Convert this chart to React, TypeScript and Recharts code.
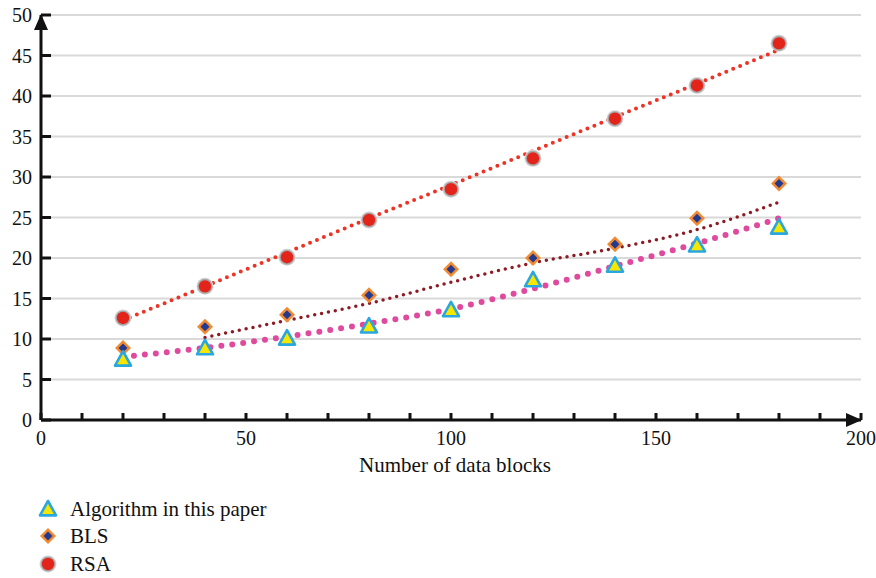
import React from 'react';
import { ComposedChart, Line, XAxis, YAxis, CartesianGrid } from 'recharts';

const blocks = [20, 40, 60, 80, 100, 120, 140, 160, 180];
const algorithmValues = [7.5, 8.9, 10.1, 11.6, 13.6, 17.3, 19.1, 21.6, 23.8];
const blsValues = [8.9, 11.5, 13.0, 15.4, 18.6, 20.0, 21.7, 24.9, 29.2];
const rsaValues = [12.6, 16.5, 20.1, 24.7, 28.5, 32.3, 37.2, 41.3, 46.5];
const algorithmTrend = [7.8, 8.9, 10.3, 11.9, 13.7, 16.2, 19.0, 21.8, 24.9];
const blsTrend = [null, 10.2, 12.3, 14.4, 17.0, 19.4, 21.2, 23.5, 26.9];
const rsaTrend = [12.3, 16.5, 20.7, 24.9, 29.0, 33.2, 37.4, 41.5, 45.7];
const xTicks = [0, 10, 20, 30, 40, 50, 60, 70, 80, 90, 100, 110, 120, 130, 140, 150, 160, 170, 180, 190, 200];
const yTicks = [0, 5, 10, 15, 20, 25, 30, 35, 40, 45, 50];
const seriesNames = ['Algorithm in this paper', 'BLS', 'RSA'];

const data = blocks.map((x, i) => ({
  x,
  algorithm: algorithmValues[i],
  bls: blsValues[i],
  rsa: rsaValues[i],
  algorithmTrend: algorithmTrend[i],
  blsTrend: blsTrend[i],
  rsaTrend: rsaTrend[i],
}));

const FONT = '"Liberation Serif", "Times New Roman", serif';

const Triangle = (props: any) => {
  const { cx, cy } = props;
  if (cx == null || cy == null) return null;
  const s = 8;
  return (
    <path
      d={`M${cx},${cy - s} L${cx + s},${cy + s * 0.8} L${cx - s},${cy + s * 0.8} Z`}
      fill="#f6e600"
      stroke="#2aa6e0"
      strokeWidth={2.6}
      strokeLinejoin="round"
    />
  );
};

const Diamond = (props: any) => {
  const { cx, cy } = props;
  if (cx == null || cy == null) return null;
  const s = 8;
  const t = 4.5;
  return (
    <g>
      <path d={`M${cx},${cy - s} L${cx + s},${cy} L${cx},${cy + s} L${cx - s},${cy} Z`} fill="#f28a32" />
      <path d={`M${cx},${cy - t} L${cx + t},${cy} L${cx},${cy + t} L${cx - t},${cy} Z`} fill="#243a8e" />
    </g>
  );
};

const Ball = (props: any) => {
  const { cx, cy } = props;
  if (cx == null || cy == null) return null;
  return (
    <g>
      <circle cx={cx} cy={cy} r={8.5} fill="#d4d4d4" />
      <circle cx={cx} cy={cy} r={7.5} fill="#a8a8a8" />
      <circle cx={cx} cy={cy} r={6.2} fill="#e3241b" />
    </g>
  );
};

const LegendIcon = ({ kind }: { kind: number }) => (
  <svg width={20} height={20} style={{ display: 'block' }}>
    {kind === 0 && <Triangle cx={10} cy={10} />}
    {kind === 1 && <Diamond cx={10} cy={10} />}
    {kind === 2 && <Ball cx={10} cy={10} />}
  </svg>
);

export default function App() {
  return (
    <div style={{ position: 'absolute', left: 0, top: 0, width: 876, height: 578, background: '#fff', fontFamily: FONT }}>
      <svg width={0} height={0} style={{ position: 'absolute' }}>
        <defs>
          <marker id="axisArrow" markerUnits="userSpaceOnUse" markerWidth={17} markerHeight={14} refX={15} refY={7} orient="auto-start-reverse">
            <path d="M0,0 L16,7 L0,14 Z" fill="#111" />
          </marker>
        </defs>
      </svg>
      <ComposedChart width={876} height={578} data={data} margin={{ top: 15, right: 15, bottom: 102, left: 0 }}>
        <CartesianGrid horizontal vertical={false} stroke="#d9d9d9" strokeWidth={2} />
        <XAxis
          type="number"
          dataKey="x"
          domain={[0, 200]}
          ticks={xTicks}
          interval={0}
          tickFormatter={(v: number) => (v % 50 === 0 ? String(v) : '')}
          tickSize={-7}
          tickMargin={18}
          height={56}
          axisLine={{ stroke: '#111', strokeWidth: 3, markerEnd: 'url(#axisArrow)' }}
          tickLine={{ stroke: '#111', strokeWidth: 3 }}
          tick={{ fill: '#111', fontSize: 20, fontFamily: FONT }}
          label={{ value: 'Number of data blocks', position: 'insideBottom', offset: 4, dx: 4, fill: '#111', fontSize: 21, fontFamily: FONT }}
        />
        <YAxis
          type="number"
          domain={[0, 50]}
          ticks={yTicks}
          interval={0}
          width={41}
          tickSize={-10}
          tickMargin={19}
          axisLine={{ stroke: '#111', strokeWidth: 3, markerStart: 'url(#axisArrow)' }}
          tickLine={{ stroke: '#111', strokeWidth: 3 }}
          tick={{ fill: '#111', fontSize: 20, fontFamily: FONT }}
        />
        <Line dataKey="rsaTrend" type="linear" stroke="#ee3224" strokeWidth={4} strokeDasharray="0 7.5" strokeLinecap="round" dot={false} isAnimationActive={false} />
        <Line dataKey="blsTrend" type="monotone" stroke="#8e1b24" strokeWidth={3.5} strokeDasharray="0 7" strokeLinecap="round" dot={false} connectNulls={false} isAnimationActive={false} />
        <Line dataKey="algorithmTrend" type="monotone" stroke="#e04a9e" strokeWidth={6} strokeDasharray="0 11" strokeLinecap="round" dot={false} isAnimationActive={false} />
        <Line dataKey="rsa" stroke="none" dot={<Ball />} activeDot={false} isAnimationActive={false} />
        <Line dataKey="bls" stroke="none" dot={<Diamond />} activeDot={false} isAnimationActive={false} />
        <Line dataKey="algorithm" stroke="none" dot={<Triangle />} activeDot={false} isAnimationActive={false} />
      </ComposedChart>
      <div style={{ position: 'absolute', left: 38, top: 495 }}>
        {seriesNames.map((name, i) => (
          <div key={name} style={{ display: 'flex', alignItems: 'center', height: 27.5 }}>
            <LegendIcon kind={i} />
            <span style={{ marginLeft: 12, fontSize: 21, color: '#111', lineHeight: '22px' }}>{name}</span>
          </div>
        ))}
      </div>
    </div>
  );
}
